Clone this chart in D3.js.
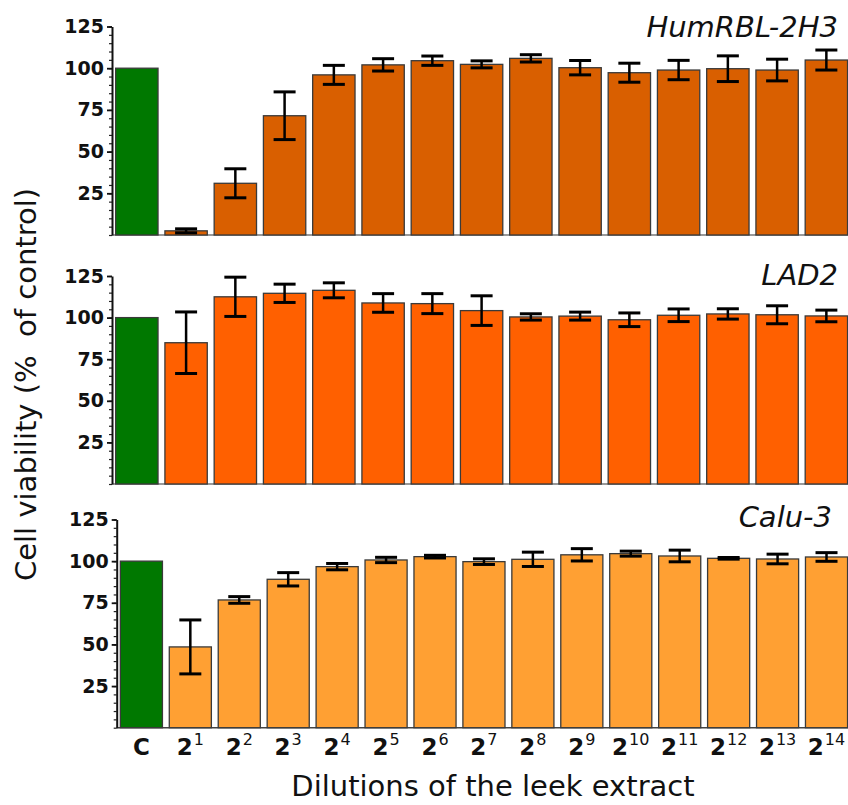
<!DOCTYPE html>
<html><head><meta charset="utf-8">
<script src="https://cdn.jsdelivr.net/npm/d3@7"></script>
<style>body{margin:0;background:#fff}svg{display:block}</style>
</head><body>
<svg id="chart" width="848" height="805"></svg>
<script>
// ---- data ----
const categories = ["C","2^1","2^2","2^3","2^4","2^5","2^6","2^7","2^8","2^9","2^10","2^11","2^12","2^13","2^14"];
const panelNames = ["HumRBL-2H3","LAD2","Calu-3"];
const humValues = [100, 2.5, 31, 71.5, 96, 102, 104.5, 102.3, 105.9, 100.3, 97.3, 98.9, 99.7, 98.9, 104.9];
const humErrors = [0, 1.2, 8.7, 14.3, 5.7, 3.7, 2.8, 2.1, 2.2, 4.3, 5.7, 5.8, 7.7, 6.5, 6];
const ladValues = [100, 84.9, 112.5, 114.6, 116.4, 108.8, 108.4, 104.2, 100.4, 100.9, 98.7, 101.4, 102.2, 101.7, 101];
const ladErrors = [0, 18.5, 11.8, 5.5, 4.5, 5.6, 6, 8.9, 1.9, 2.4, 4.1, 3.8, 3.1, 5.4, 3.5];
const caluValues = [100, 48.5, 76.7, 89.1, 96.7, 100.7, 102.7, 99.7, 101.1, 103.8, 104.5, 103.1, 101.7, 101.3, 102.5];
const caluErrors = [0, 16.2, 2, 4, 1.9, 1.6, 0.8, 1.7, 4.3, 3.7, 1.5, 3.5, 0.5, 2.9, 2.6];
const yTicks = [25, 50, 75, 100, 125];
const yMinorTicks = d3.range(0, 126, 5);
const yTitle = "Cell viability (%  of control)";
const xTitle = "Dilutions of the leek extract";

// ---- layout ----
const controlColor = "#007800";
const panels = [
  {name: panelNames[0], values: humValues, errors: humErrors, color: "#D95F00", axisX: 112, y0: 235, yTop: 26.5, titleX: 838, titleY: 37, labels: false},
  {name: panelNames[1], values: ladValues, errors: ladErrors, color: "#FF6000", axisX: 112, y0: 484, yTop: 276, titleX: 838, titleY: 285, labels: false},
  {name: panelNames[2], values: caluValues, errors: caluErrors, color: "#FFA033", axisX: 116.7, y0: 727.7, yTop: 519.5, titleX: 832, titleY: 527, labels: true}
];

const svg = d3.select("#chart");
const font = "'DejaVu Sans', sans-serif";

panels.forEach(p => {
  const g = svg.append("g");
  const x = d3.scaleBand().domain(categories)
    .range([p.axisX + 1.2, 850]).paddingInner(0.14).paddingOuter(0.05);
  const y = d3.scaleLinear().domain([0, 125]).range([p.y0, p.yTop]);

  // baseline
  g.append("line").attr("x1", p.axisX).attr("x2", 848)
    .attr("y1", y(0)).attr("y2", y(0))
    .attr("stroke", p.labels ? "#444" : "#777").attr("stroke-width", 1.5);

  // bars
  g.selectAll("rect.bar").data(p.values).join("rect")
    .attr("class", "bar")
    .attr("x", (d, i) => x(categories[i]))
    .attr("width", x.bandwidth())
    .attr("y", d => y(d))
    .attr("height", d => y(0) - y(d))
    .attr("fill", (d, i) => i === 0 ? controlColor : p.color)
    .attr("stroke", "#3a3a3a").attr("stroke-width", 1.3);

  // error bars
  const eb = g.selectAll("g.err").data(p.values.map((v, i) => ({v, e: p.errors[i], c: categories[i]})).filter(d => d.e > 0))
    .join("g").attr("class", "err");
  const cx = d => x(d.c) + x.bandwidth() / 2;
  eb.append("line").attr("x1", cx).attr("x2", cx)
    .attr("y1", d => y(d.v + d.e)).attr("y2", d => y(d.v - d.e))
    .attr("stroke", "#000").attr("stroke-width", 2.5);
  [1, -1].forEach(s => {
    eb.append("line").attr("x1", d => cx(d) - 11).attr("x2", d => cx(d) + 11)
      .attr("y1", d => y(d.v + s * d.e)).attr("y2", d => y(d.v + s * d.e))
      .attr("stroke", "#000").attr("stroke-width", 3);
  });

  // minor ticks
  const minor = g.append("g").attr("transform", `translate(${p.axisX},0)`)
    .call(d3.axisLeft(y).tickValues(yMinorTicks).tickSize(3).tickSizeOuter(0).tickFormat(""));
  minor.select(".domain").remove();
  minor.selectAll("line").attr("stroke", "#222").attr("stroke-width", 1.2);

  // major axis
  const ax = g.append("g").attr("transform", `translate(${p.axisX},0)`)
    .call(d3.axisLeft(y).tickValues(yTicks).tickSize(5).tickSizeOuter(0).tickPadding(3));
  ax.select(".domain").attr("stroke", "#111").attr("stroke-width", 2);
  ax.selectAll(".tick line").attr("stroke", "#111").attr("stroke-width", 1.8);
  ax.selectAll(".tick text").attr("font-family", font).attr("font-weight", "bold")
    .attr("font-size", 19).attr("fill", "#111");

  // panel title
  g.append("text").attr("x", p.titleX).attr("y", p.titleY)
    .attr("text-anchor", "end").attr("font-family", font)
    .attr("font-style", "italic").attr("font-size", 29).attr("fill", "#111")
    .text(p.name);

  // category labels
  if (p.labels) {
    const lab = g.selectAll("text.cat").data(categories).join("text")
      .attr("class", "cat")
      .attr("x", c => x(c) + x.bandwidth() / 2)
      .attr("y", 755)
      .attr("text-anchor", "middle")
      .attr("font-family", font).attr("font-weight", "bold")
      .attr("font-size", 23).attr("fill", "#111");
    lab.each(function(c) {
      const t = d3.select(this);
      const parts = c.split("^");
      t.append("tspan").text(parts[0]);
      if (parts[1]) {
        t.append("tspan").attr("dy", -10).attr("dx", 1).attr("font-size", 16).attr("font-weight", "normal").text(parts[1]);
      }
    });
  }
});

// axis titles
svg.append("text")
  .attr("transform", "translate(36,384.5) rotate(-90)")
  .attr("text-anchor", "middle").attr("font-family", font)
  .style("white-space", "pre")
  .attr("font-size", 29).attr("fill", "#111").text(yTitle);
svg.append("text")
  .attr("x", 493).attr("y", 796)
  .attr("text-anchor", "middle").attr("font-family", font)
  .attr("font-size", 29).attr("fill", "#111").text(xTitle);
</script>
</body></html>
